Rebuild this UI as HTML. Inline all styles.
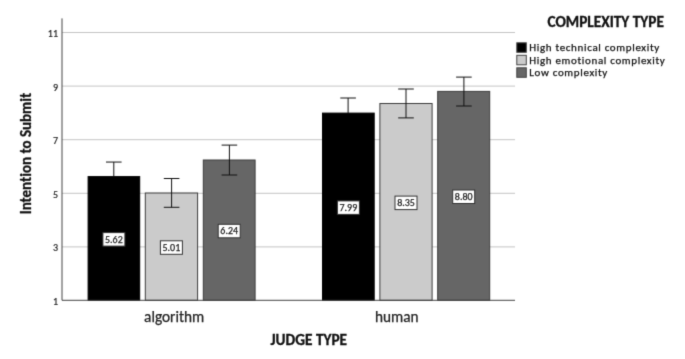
<!DOCTYPE html>
<html><head><meta charset="utf-8"><style>
html,body{margin:0;padding:0;background:#fff;}
body{width:685px;height:359px;overflow:hidden;}
svg{display:block;font-family:"Carlito", "Liberation Sans", sans-serif;font-variant-ligatures:none;font-feature-settings:"liga" 0,"clig" 0;}
</style></head><body>
<svg width="685" height="359" viewBox="0 0 685 359">
<defs><filter id="soft" x="0" y="0" width="685" height="359" filterUnits="userSpaceOnUse" color-interpolation-filters="sRGB"><feConvolveMatrix order="3" kernelMatrix="1 6 1 6 36 6 1 6 1" divisor="64" edgeMode="duplicate"/></filter></defs>
<g filter="url(#soft)">
<rect width="685" height="359" fill="#fff"/>
<line x1="62" y1="246.9" x2="515" y2="246.9" stroke="#c4c4c4" stroke-width="1"/>
<line x1="62" y1="193.3" x2="515" y2="193.3" stroke="#c4c4c4" stroke-width="1"/>
<line x1="62" y1="139.7" x2="515" y2="139.7" stroke="#c4c4c4" stroke-width="1"/>
<line x1="62" y1="86.1" x2="515" y2="86.1" stroke="#c4c4c4" stroke-width="1"/>
<line x1="62" y1="32.5" x2="515" y2="32.5" stroke="#c4c4c4" stroke-width="1"/>
<rect x="88.1" y="176.6" width="51.6" height="123.7" fill="#000000" stroke="#000" stroke-width="1"/>
<rect x="145.3" y="193.0" width="52.3" height="107.3" fill="#cbcbcb" stroke="#3c3c3c" stroke-width="1"/>
<rect x="203.3" y="160.0" width="51.8" height="140.3" fill="#666666" stroke="#3c3c3c" stroke-width="1"/>
<rect x="322.5" y="113.1" width="51.7" height="187.2" fill="#000000" stroke="#000" stroke-width="1"/>
<rect x="379.9" y="103.5" width="52.2" height="196.8" fill="#cbcbcb" stroke="#3c3c3c" stroke-width="1"/>
<rect x="437.7" y="91.4" width="52.0" height="208.9" fill="#666666" stroke="#3c3c3c" stroke-width="1"/>
<line x1="113.8" y1="162.05" x2="113.8" y2="176.5" stroke="#111" stroke-width="1"/>
<line x1="106.0" y1="162.05" x2="121.6" y2="162.05" stroke="#111" stroke-width="1"/>
<line x1="171.6" y1="178.5" x2="171.6" y2="207.3" stroke="#111" stroke-width="1"/>
<line x1="163.8" y1="178.5" x2="179.4" y2="178.5" stroke="#111" stroke-width="1"/>
<line x1="163.8" y1="207.3" x2="179.4" y2="207.3" stroke="#111" stroke-width="1"/>
<line x1="229.4" y1="145.1" x2="229.4" y2="175.0" stroke="#111" stroke-width="1"/>
<line x1="221.6" y1="145.1" x2="237.2" y2="145.1" stroke="#111" stroke-width="1"/>
<line x1="221.6" y1="175.0" x2="237.2" y2="175.0" stroke="#111" stroke-width="1"/>
<line x1="348.1" y1="98.0" x2="348.1" y2="113.0" stroke="#111" stroke-width="1"/>
<line x1="340.3" y1="98.0" x2="355.9" y2="98.0" stroke="#111" stroke-width="1"/>
<line x1="406.0" y1="89.0" x2="406.0" y2="117.9" stroke="#111" stroke-width="1"/>
<line x1="398.2" y1="89.0" x2="413.8" y2="89.0" stroke="#111" stroke-width="1"/>
<line x1="398.2" y1="117.9" x2="413.8" y2="117.9" stroke="#111" stroke-width="1"/>
<line x1="463.9" y1="77.1" x2="463.9" y2="106.0" stroke="#111" stroke-width="1"/>
<line x1="456.1" y1="77.1" x2="471.7" y2="77.1" stroke="#111" stroke-width="1"/>
<line x1="456.1" y1="106.0" x2="471.7" y2="106.0" stroke="#111" stroke-width="1"/>
<rect x="102.9" y="232.6" width="22" height="13.5" fill="#fff" stroke="#333" stroke-width="1"/>
<text x="113.9" y="242.7" text-anchor="middle" font-size="10" fill="#222" stroke="#222" stroke-width="0.25" textLength="17.73" lengthAdjust="spacingAndGlyphs">5.62</text>
<rect x="160.4" y="240.8" width="22" height="13.5" fill="#fff" stroke="#333" stroke-width="1"/>
<text x="171.4" y="250.9" text-anchor="middle" font-size="10" fill="#222" stroke="#222" stroke-width="0.25" textLength="17.73" lengthAdjust="spacingAndGlyphs">5.01</text>
<rect x="218.2" y="224.3" width="22" height="13.5" fill="#fff" stroke="#333" stroke-width="1"/>
<text x="229.2" y="234.4" text-anchor="middle" font-size="10" fill="#222" stroke="#222" stroke-width="0.25" textLength="17.73" lengthAdjust="spacingAndGlyphs">6.24</text>
<rect x="337.4" y="200.9" width="22" height="13.5" fill="#fff" stroke="#333" stroke-width="1"/>
<text x="348.4" y="210.9" text-anchor="middle" font-size="10" fill="#222" stroke="#222" stroke-width="0.25" textLength="17.73" lengthAdjust="spacingAndGlyphs">7.99</text>
<rect x="395.0" y="196.1" width="22" height="13.5" fill="#fff" stroke="#333" stroke-width="1"/>
<text x="406.0" y="206.1" text-anchor="middle" font-size="10" fill="#222" stroke="#222" stroke-width="0.25" textLength="17.73" lengthAdjust="spacingAndGlyphs">8.35</text>
<rect x="452.7" y="190.0" width="22" height="13.5" fill="#fff" stroke="#333" stroke-width="1"/>
<text x="463.7" y="200.1" text-anchor="middle" font-size="10" fill="#222" stroke="#222" stroke-width="0.25" textLength="17.73" lengthAdjust="spacingAndGlyphs">8.80</text>
<line x1="62" y1="18.4" x2="62" y2="300.3" stroke="#444444" stroke-width="1"/>
<line x1="62" y1="300.3" x2="515" y2="300.3" stroke="#444444" stroke-width="1"/>
<text x="58" y="304.9" text-anchor="end" font-size="10" fill="#222" stroke="#222" stroke-width="0.2">1</text>
<text x="58" y="251.3" text-anchor="end" font-size="10" fill="#222" stroke="#222" stroke-width="0.2">3</text>
<text x="58" y="197.7" text-anchor="end" font-size="10" fill="#222" stroke="#222" stroke-width="0.2">5</text>
<text x="58" y="144.1" text-anchor="end" font-size="10" fill="#222" stroke="#222" stroke-width="0.2">7</text>
<text x="58" y="90.5" text-anchor="end" font-size="10" fill="#222" stroke="#222" stroke-width="0.2">9</text>
<text x="58" y="36.9" text-anchor="end" font-size="10" fill="#222" stroke="#222" stroke-width="0.2">11</text>
<text x="174.2" y="321.5" text-anchor="middle" font-size="15.3" fill="#222" stroke="#222" stroke-width="0.25" textLength="60.23" lengthAdjust="spacingAndGlyphs">algorithm</text>
<text x="396.8" y="321.6" text-anchor="middle" font-size="15.3" fill="#222" stroke="#222" stroke-width="0.25" textLength="43.67" lengthAdjust="spacingAndGlyphs">human</text>
<text x="308.8" y="345.2" text-anchor="middle" font-size="15.3" font-weight="bold" fill="#111" stroke="#111" stroke-width="0.3" textLength="76.5" lengthAdjust="spacingAndGlyphs">JUDGE TYPE</text>
<text transform="translate(30.8,153.6) rotate(-90)" text-anchor="middle" font-size="15.0" font-weight="bold" fill="#111" stroke="#111" stroke-width="0.3" textLength="121.47" lengthAdjust="spacingAndGlyphs">Intention to Submit</text>
<text x="605.7" y="26.8" text-anchor="middle" font-size="15.3" font-weight="bold" fill="#111" stroke="#111" stroke-width="0.3" textLength="116.39" lengthAdjust="spacingAndGlyphs">COMPLEXITY TYPE</text>
<rect x="516.8" y="42.8" width="9.5" height="9.5" fill="#000000" stroke="#444" stroke-width="1"/>
<text x="529.3" y="51.1" font-size="11" textLength="130.0" lengthAdjust="spacing" fill="#111" stroke="#111" stroke-width="0.25">High technical complexity</text>
<rect x="516.8" y="55.3" width="9.5" height="9.5" fill="#cbcbcb" stroke="#444" stroke-width="1"/>
<text x="529.3" y="63.6" font-size="11" textLength="135.5" lengthAdjust="spacing" fill="#111" stroke="#111" stroke-width="0.25">High emotional complexity</text>
<rect x="516.8" y="67.8" width="9.5" height="9.5" fill="#666666" stroke="#444" stroke-width="1"/>
<text x="529.3" y="76.1" font-size="11" textLength="78.0" lengthAdjust="spacing" fill="#111" stroke="#111" stroke-width="0.25">Low complexity</text>
</g>
</svg>
</body></html>
